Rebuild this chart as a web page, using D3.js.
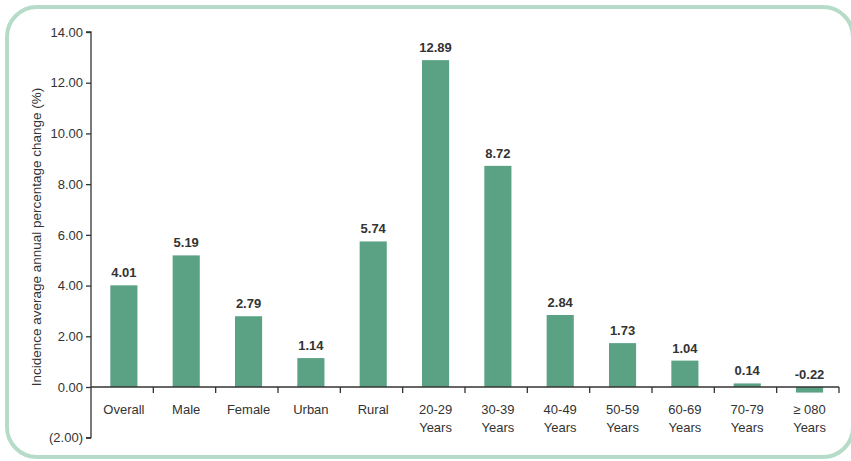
<!DOCTYPE html>
<html><head><meta charset="utf-8">
<script src="https://cdn.jsdelivr.net/npm/d3@7"></script>
<style>body{margin:0;background:#fff}svg{display:block;font-family:"Liberation Sans",Arial,sans-serif}</style>
</head><body><svg id="c" width="851" height="461"></svg>
<script>
const categories = [["Overall"],["Male"],["Female"],["Urban"],["Rural"],["20-29","Years"],["30-39","Years"],["40-49","Years"],["50-59","Years"],["60-69","Years"],["70-79","Years"],["\u2265 080","Years"]];
const values = [4.01,5.19,2.79,1.14,5.74,12.89,8.72,2.84,1.73,1.04,0.14,-0.22];
const yTicks = [-2,0,2,4,6,8,10,12,14];
const yTitle = "Incidence average annual percentage change (%)";

const svg = d3.select("#c");
svg.append("rect").attr("x",7).attr("y",7).attr("width",846).attr("height",450)
  .attr("rx",30).attr("fill","none").attr("stroke","#b6dcc9").attr("stroke-width",4);

const x0 = 91, x1 = 839;
const y = d3.scaleLinear().domain([-2,14]).range([437.7,32]);
const x = d3.scaleBand().domain(d3.range(categories.length)).range([x0,x1]).padding(0);
const bw = x.bandwidth();
const barOff = bw*0.31, barW = bw*0.435;

const g = svg.append("g");
g.selectAll("rect.bar").data(values).join("rect")
  .attr("x",(d,i)=>x(i)+barOff).attr("width",barW)
  .attr("y",d=>y(Math.max(0,d))).attr("height",d=>Math.abs(y(d)-y(0)))
  .attr("fill","#5aa283");
g.selectAll("text.val").data(values).join("text")
  .attr("x",(d,i)=>x(i)+barOff+barW/2).attr("y",d=>y(Math.max(0,d))-8)
  .attr("text-anchor","middle").attr("font-size",13).attr("font-weight","bold").attr("fill","#333")
  .text(d=>d.toFixed(2));

const yAxis = d3.axisLeft(y).tickValues(yTicks).tickSize(5).tickPadding(3)
  .tickFormat(d=> d<0 ? "("+Math.abs(d).toFixed(2)+")" : d.toFixed(2));
const ya = svg.append("g").attr("transform",`translate(${x0},0)`).call(yAxis);
ya.select(".domain").attr("stroke","#333").attr("stroke-width",1.3).attr("d",`M-5,${y(14)}H0V${y(-2)}H-5`);
ya.selectAll(".tick line").attr("stroke","#333").attr("stroke-width",1.3);
ya.selectAll(".tick text").attr("font-size",13).attr("fill","#333").attr("font-family","Liberation Sans, Arial, sans-serif");

const xa = svg.append("g").attr("transform",`translate(0,${y(0)})`);
xa.append("line").attr("x1",x0).attr("x2",x1).attr("stroke","#333").attr("stroke-width",1.3);
xa.selectAll("line.t").data(d3.range(1,categories.length+1)).join("line")
  .attr("x1",i=>x0+i*bw).attr("x2",i=>x0+i*bw).attr("y1",0).attr("y2",6)
  .attr("stroke","#333").attr("stroke-width",1.3);
const lbl = xa.selectAll("text.cat").data(categories).join("text")
  .attr("text-anchor","middle").attr("font-size",13).attr("fill","#333")
  .attr("transform",(d,i)=>`translate(${x(i)+barOff+barW/2},0)`);
lbl.selectAll("tspan").data(d=>d).join("tspan").attr("x",0).attr("y",(d,j)=>27+j*18).text(d=>d);

svg.append("text").attr("transform","translate(41,237) rotate(-90)").attr("text-anchor","middle")
  .attr("font-size",13.5).attr("fill","#333").text(yTitle);
</script></body></html>
